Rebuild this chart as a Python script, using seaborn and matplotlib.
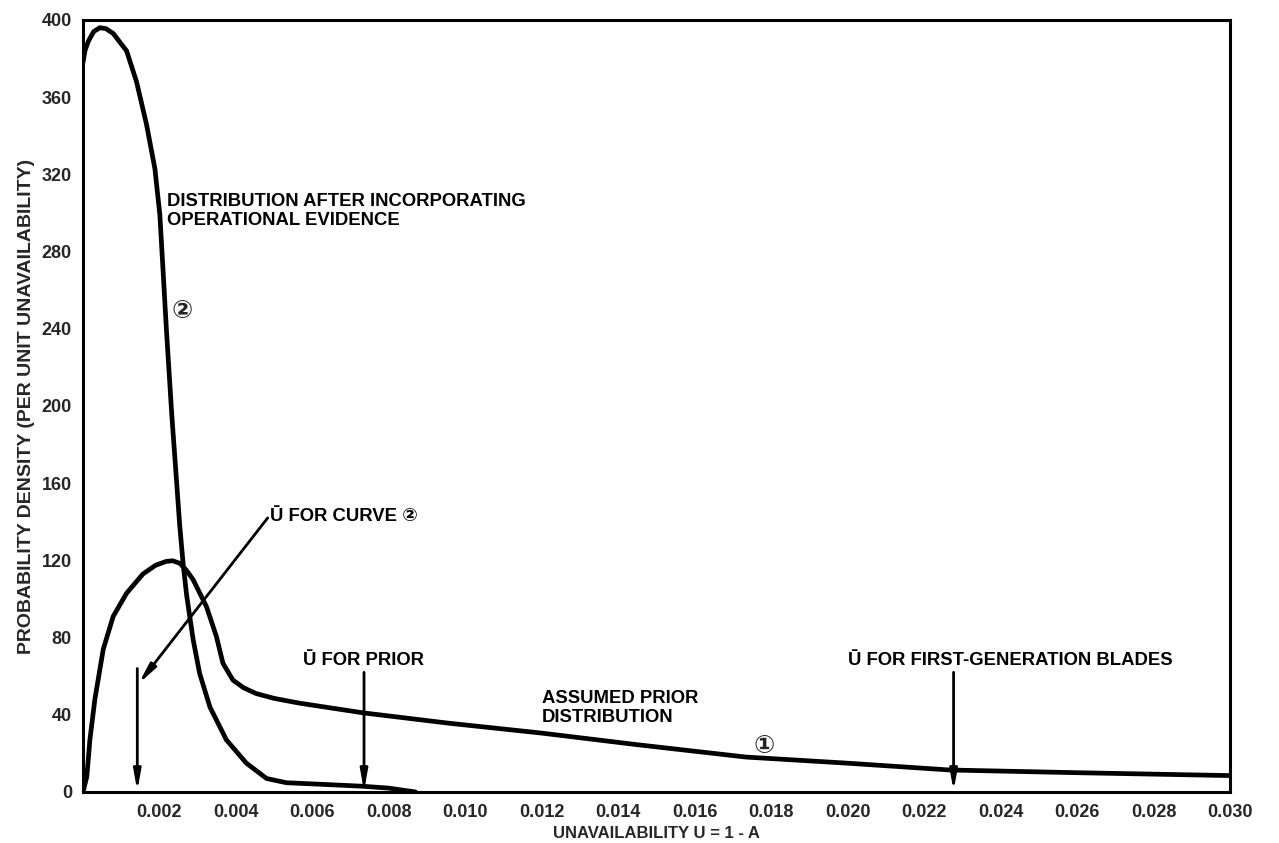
import matplotlib
matplotlib.use("Agg")
import matplotlib.pyplot as plt
import seaborn as sns
import pandas as pd

# ---- data ----
prior_u = [0, 0.0001, 0.00018, 0.00031, 0.00053, 0.00079, 0.00114, 0.00157, 0.00190,
           0.00218, 0.00235, 0.00253, 0.00270, 0.00288, 0.00323, 0.00349, 0.00366,
           0.00392, 0.00420, 0.00453, 0.00500, 0.00567, 0.00733, 0.00954, 0.01196,
           0.0145, 0.01734, 0.01994, 0.02267, 0.026, 0.030]
prior_density = [0, 8, 27, 48, 74, 91, 103, 113, 117.5,
                 119.5, 119.8, 118.5, 115, 110, 96, 80.5, 66.7,
                 58, 54, 51, 48.5, 46, 41, 35.7, 30.6,
                 24.5, 18.1, 15, 11.4, 10, 8.5]

post_u = [0, 0.00005, 0.00014, 0.00028, 0.00044, 0.0006, 0.00079, 0.00114, 0.0014,
          0.00166, 0.00188, 0.00201, 0.0021, 0.00218, 0.00232, 0.00253, 0.00262,
          0.00271, 0.00288, 0.00305, 0.00332, 0.00375, 0.00427, 0.0048, 0.00532,
          0.006, 0.0073, 0.008, 0.0087]
post_density = [378, 384, 389, 394, 396, 395.5, 393, 384, 368,
                346, 323, 299, 268, 240, 196, 138, 118,
                102, 79, 61.5, 44, 27, 15, 7, 4.8,
                4.2, 3, 2, 0]

x_ticks = [0.002, 0.004, 0.006, 0.008, 0.010, 0.012, 0.014, 0.016, 0.018, 0.020,
           0.022, 0.024, 0.026, 0.028, 0.030]
x_tick_labels = ["0.002", "0.004", "0.006", "0.008", "0.010", "0.012", "0.014", "0.016",
                 "0.018", "0.020", "0.022", "0.024", "0.026", "0.028", "0.030"]
y_ticks = [0, 40, 80, 120, 160, 200, 240, 280, 320, 360, 400]

u_bar_curve2 = 0.00142
u_bar_prior = 0.00735
u_bar_first_gen = 0.02277

sns.set_theme(style="white")
plt.rcParams['font.family'] = ['Liberation Sans', 'DejaVu Sans']
plt.rcParams['font.weight'] = 'bold'

fig = plt.figure(figsize=(12.79, 8.43), dpi=100)
ax = fig.add_axes([0.0649, 0.0605, 0.8968, 0.9158])

df_prior = pd.DataFrame({"u": prior_u, "d": prior_density})
df_post = pd.DataFrame({"u": post_u, "d": post_density})
sns.lineplot(data=df_prior, x="u", y="d", ax=ax, color="black", lw=3.4, sort=False)
sns.lineplot(data=df_post, x="u", y="d", ax=ax, color="black", lw=3.4, sort=False)
for ln in ax.get_lines():
    ln.set_solid_joinstyle('round')
    ln.set_solid_capstyle('round')

ax.set_xlim(0, 0.030)
ax.set_ylim(0, 400)
ax.set_xticks(x_ticks)
ax.set_xticklabels(x_tick_labels)
ax.set_yticks(y_ticks)
ax.tick_params(axis='both', direction='in', length=17, width=2, color='black',
               labelsize=13, pad=8)
ax.tick_params(axis='x', pad=9)
for lab in ax.get_xticklabels() + ax.get_yticklabels():
    lab.set_fontweight('bold')
for s in ax.spines.values():
    s.set_color('black')
    s.set_linewidth(2.2)

ax.set_xlabel("UNAVAILABILITY U = 1 - A", fontsize=12, fontweight='bold', labelpad=3)
ax.set_ylabel("PROBABILITY DENSITY (PER UNIT UNAVAILABILITY)", fontsize=14,
              fontweight='bold', labelpad=5)

txt = dict(fontsize=13.3, fontweight='bold', color='black')
arrow = dict(arrowstyle='-|>,head_length=1.0,head_width=0.18', lw=2, color='black',
             shrinkA=0, shrinkB=0)

ax.text(0.00219, 301, "DISTRIBUTION AFTER INCORPORATING\nOPERATIONAL EVIDENCE",
        ha='left', va='center', linespacing=1.2, **txt)
ax.text(0.0026, 249, "②", ha='center', va='center', fontsize=18, fontweight='bold',
        family=['DejaVu Sans'])
ax.text(0.0178, 24, "①", ha='center', va='center', fontsize=18, fontweight='bold',
        family=['DejaVu Sans'])
ax.text(0.0120, 43.5, "ASSUMED PRIOR\nDISTRIBUTION", ha='left', va='center',
        linespacing=1.2, **txt)

# U bar for curve 2
ax.text(0.00488, 142.5, "Ū FOR CURVE ②", ha='left', va='center', **txt)
ax.annotate("", xy=(u_bar_curve2 + 0.00003, 56), xytext=(0.00483, 142),
            arrowprops=arrow)
ax.annotate("", xy=(u_bar_curve2, 0.5), xytext=(u_bar_curve2, 64), arrowprops=arrow)

# U bar for prior
ax.text(0.00575, 68, "Ū FOR PRIOR", ha='left', va='center', **txt)
ax.annotate("", xy=(u_bar_prior, 0.5), xytext=(u_bar_prior, 62), arrowprops=arrow)

# U bar for first-generation blades
ax.text(0.0200, 68, "Ū FOR FIRST-GENERATION BLADES", ha='left', va='center', **txt)
ax.annotate("", xy=(u_bar_first_gen, 0.5), xytext=(u_bar_first_gen, 62),
            arrowprops=arrow)

fig.savefig("out.png", dpi=100)
